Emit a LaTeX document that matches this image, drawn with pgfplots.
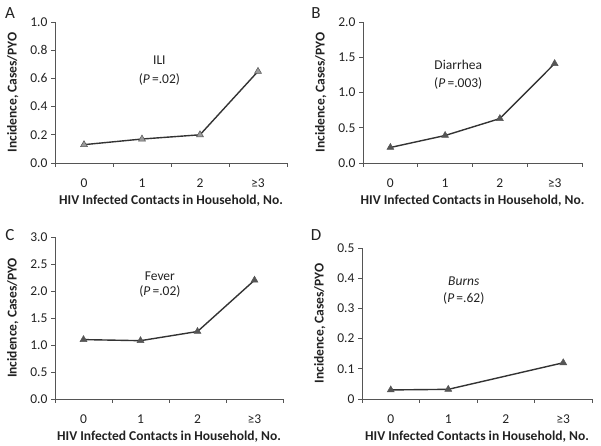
\documentclass[border=0pt]{standalone}
\usepackage{pgfplots}
\pgfplotsset{compat=1.18}
\usepackage{fontspec}
\setmainfont{Carlito}
\definecolor{txt}{HTML}{222222}
\definecolor{axc}{HTML}{555555}
\definecolor{lnc}{HTML}{333333}
\definecolor{mkA}{HTML}{9A9A9A}
\definecolor{mkB}{HTML}{555555}
\pgfplotsset{
  panel/.style={
    scale only axis,
    axis lines=left,
    axis line style={-, draw=axc, line width=0.8pt},
    tick align=outside,
    xmin=-0.5, xmax=3.5,
    ymin=0,
    xtick={0,1,2,3},
    xticklabels={0,1,2,≥3},
    major x tick style={draw=none},
    minor xtick={-0.5,0.5,1.5,2.5,3.5},
    every tick/.style={draw=axc, line width=0.8pt},
    major tick length=4pt,
    minor tick length=4pt,
    tick label style={font=\fontsize{13.5}{15}\selectfont, text=txt},
    xticklabel style={anchor=center, yshift=-16pt},
    label style={font=\bfseries\fontsize{13.5}{14}\selectfont, text=txt},
    xlabel={HIV Infected Contacts in Household, No.},
    xlabel style={at={(axis description cs:0.5,0)}, anchor=center, yshift=-38pt},
    ylabel={Incidence, Cases/PYO},
    ylabel style={yshift=5pt},
    clip=false,
  },
  ser/.style={color=lnc, line width=1.4pt, mark=triangle*, mark size=4pt,
    mark options={fill=#1, draw=axc, line width=0.5pt}},
}
\begin{document}
\begin{tikzpicture}
\useasboundingbox (0pt,0pt) rectangle (601pt,446pt);
% Panel A
\begin{axis}[panel, at={(55pt,283pt)}, anchor=south west, width=232pt, height=141pt,
  ymax=1.0, ytick={0,0.2,0.4,0.6,0.8,1.0}, yticklabels={0.0,0.2,0.4,0.6,0.8,1.0}]
\addplot[ser=mkA] coordinates {(0,0.13) (1,0.17) (2,0.20) (3,0.65)};
\node[font=\fontsize{13.5}{19}\selectfont, text=txt, align=center] at (axis cs:1.3,0.656) {ILI\\(\textit{P}\,=.02)};
\end{axis}
% Panel B
\begin{axis}[panel, at={(363pt,283pt)}, anchor=south west, width=219pt, height=141pt,
  ymax=2.0, ytick={0,0.5,1.0,1.5,2.0}, yticklabels={0.0,0.5,1.0,1.5,2.0}]
\addplot[ser=mkB] coordinates {(0,0.22) (1,0.39) (2,0.63) (3,1.41)};
\node[font=\fontsize{13.5}{17.5}\selectfont, text=txt, align=center] at (axis cs:1.24,1.255) {Diarrhea\\(\textit{P}\,=.003)};
\end{axis}
% Panel C
\begin{axis}[panel, at={(55pt,47pt)}, anchor=south west, width=228pt, height=162pt,
  ymax=3.0, ytick={0,0.5,1.0,1.5,2.0,2.5,3.0}, yticklabels={0.0,0.5,1.0,1.5,2.0,2.5,3.0}]
\addplot[ser=mkB] coordinates {(0,1.10) (1,1.08) (2,1.25) (3,2.20)};
\node[font=\fontsize{13.5}{15}\selectfont, text=txt, align=center] at (axis cs:1.34,2.12) {Fever\\(\textit{P}\,=.02)};
\end{axis}
% Panel D
\begin{axis}[panel, at={(362pt,47pt)}, anchor=south west, width=230pt, height=151pt,
  ymax=0.5, ytick={0,0.1,0.2,0.3,0.4,0.5}, yticklabels={0,0.1,0.2,0.3,0.4,0.5}]
\addplot[ser=mkB] coordinates {(0,0.03) (1,0.032) (3,0.12)};
\node[font=\fontsize{13.5}{17.5}\selectfont, text=txt, align=center] at (axis cs:1.27,0.359) {\textit{Burns}\\(\textit{P}\,=.62)};
\end{axis}
\node[font=\fontsize{17}{18}\selectfont, text=txt] at (10pt,433pt) {A};
\node[font=\fontsize{17}{18}\selectfont, text=txt] at (316pt,433pt) {B};
\node[font=\fontsize{17}{18}\selectfont, text=txt] at (10pt,211pt) {C};
\node[font=\fontsize{17}{18}\selectfont, text=txt] at (316pt,211pt) {D};
\end{tikzpicture}
\end{document}
